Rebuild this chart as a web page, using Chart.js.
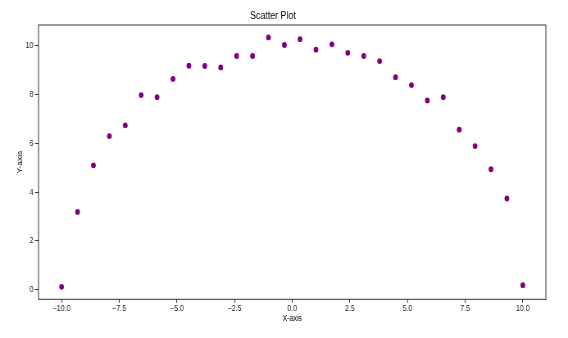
<!DOCTYPE html>
<html>
<head>
<meta charset="utf-8">
<script src="https://cdn.jsdelivr.net/npm/chart.js@4.4.1/dist/chart.umd.min.js"></script>
<style>
  html, body { margin: 0; padding: 0; background: #ffffff; }
  #wrap { width: 568px; height: 338px; overflow: hidden; }
</style>
</head>
<body>
<div id="wrap">
  <!-- drawn wider and squeezed back to 568px, the reference text is narrow -->
  <canvas id="scatter" width="693" height="338" style="width:568px;height:338px;display:block"></canvas>
</div>
<script>
const xValues = [-10, -9.31, -8.62, -7.93, -7.24, -6.55, -5.86, -5.17, -4.48, -3.79,
  -3.10, -2.41, -1.72, -1.03, -0.34, 0.34, 1.03, 1.72, 2.41, 3.10,
  3.79, 4.48, 5.17, 5.86, 6.55, 7.24, 7.93, 8.62, 9.31, 10];
const yValues = [0.12, 3.19, 5.10, 6.30, 6.74, 7.98, 7.89, 8.64, 9.18, 9.17,
  9.11, 9.58, 9.58, 10.34, 10.03, 10.27, 9.84, 10.06, 9.71, 9.58,
  9.37, 8.71, 8.39, 7.76, 7.89, 6.56, 5.89, 4.94, 3.74, 0.19];
const xTicks = [-10, -7.5, -5, -2.5, 0, 2.5, 5, 7.5, 10];
const xTickLabels = ['\u221210.0', '\u22127.5', '\u22125.0', '\u22122.5', '0.0', '2.5', '5.0', '7.5', '10.0'];
const yTicks = [0, 2, 4, 6, 8, 10];
const yTickLabels = ['0', '2', '4', '6', '8', '10'];

const FONT = "'Liberation Sans', Arial, sans-serif";
const INK = '#222222';
const FRAME = '#333333';

// box around the plot area (matplotlib spines)
const framePlugin = {
  id: 'frame',
  afterDraw(chart) {
    const { ctx, chartArea: a } = chart;
    ctx.save();
    ctx.strokeStyle = FRAME;
    ctx.lineWidth = 1;
    ctx.strokeRect(a.left, a.top, a.right - a.left, a.bottom - a.top);
    ctx.restore();
  },
};

const points = xValues.map((x, i) => ({ x, y: yValues[i] }));

new Chart(document.getElementById('scatter').getContext('2d'), {
  type: 'scatter',
  data: {
    datasets: [
      {
        data: points,
        backgroundColor: '#800080',
        borderColor: '#800080',
        borderWidth: 0,
        pointRadius: 2.9,
      },
    ],
  },
  options: {
    responsive: false,
    animation: false,
    devicePixelRatio: 1,
    layout: { padding: { top: 0, right: 27, bottom: 0, left: 0 } },
    plugins: {
      legend: { display: false },
      tooltip: { enabled: false },
      title: {
        display: true,
        text: 'Scatter Plot',
        color: '#000000',
        font: { family: FONT, size: 10.8, weight: 'normal' },
        padding: { top: 10, bottom: 2.04 },
      },
    },
    scales: {
      x: {
        type: 'linear',
        min: -11,
        max: 11,
        afterFit: (scale) => { scale.height = 38.7; },
        afterBuildTicks: (scale) => { scale.ticks = xTicks.map((v) => ({ value: v })); },
        border: { display: false },
        grid: { drawOnChartArea: false, drawTicks: true, tickLength: 3.5, color: FRAME },
        ticks: {
          color: INK,
          padding: 0.5,
          maxRotation: 0,
          font: { family: FONT, size: 8.5 },
          callback: (v) => xTickLabels[xTicks.indexOf(v)] ?? '',
        },
        title: {
          display: true,
          text: 'X-axis',
          color: '#000000',
          font: { family: FONT, size: 8.5 },
          padding: { top: 0, bottom: 13.9 },
        },
      },
      y: {
        type: 'linear',
        min: -0.39,
        max: 10.85,
        afterFit: (scale) => { scale.width = 47; },
        afterBuildTicks: (scale) => { scale.ticks = yTicks.map((v) => ({ value: v })); },
        border: { display: false },
        grid: { drawOnChartArea: false, drawTicks: true, tickLength: 4.3, color: FRAME },
        ticks: {
          color: INK,
          padding: 2,
          font: { family: FONT, size: 8.5 },
          callback: (v) => yTickLabels[yTicks.indexOf(v)] ?? '',
        },
        title: {
          display: true,
          text: 'Y-axis',
          color: '#000000',
          font: { family: FONT, size: 8.5 },
          padding: { top: 19.3, bottom: 0 },
        },
      },
    },
  },
  plugins: [framePlugin],
});
</script>
</body>
</html>
